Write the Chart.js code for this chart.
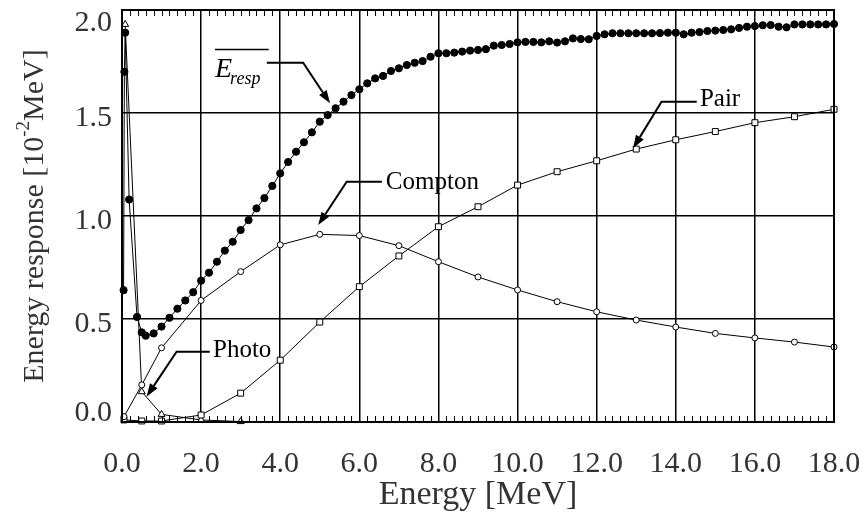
<!DOCTYPE html>
<html>
<head>
<meta charset="utf-8">
<script src="https://cdn.jsdelivr.net/npm/chart.js@4.4.1/dist/chart.umd.min.js"></script>
<style>
  html, body { margin: 0; padding: 0; background: #fff; }
  #wrap { width: 865px; height: 516px; }
</style>
</head>
<body>
<div id="wrap"><canvas id="c" width="865" height="516"></canvas></div>
<script>
// Mean energy response (filled circles)
const respEnergy = [0.04, 0.06, 0.08, 0.18, 0.38, 0.5, 0.6, 0.8,
  1.0, 1.2, 1.4, 1.6, 1.8, 2.0, 2.2, 2.4, 2.6, 2.8, 3.0, 3.2, 3.4, 3.6, 3.8,
  4.0, 4.2, 4.4, 4.6, 4.8, 5.0, 5.2, 5.4, 5.6, 5.8, 6.0, 6.2, 6.4, 6.6, 6.8,
  7.0, 7.2, 7.4, 7.6, 7.8, 8.0, 8.2, 8.4, 8.6, 8.8, 9.0, 9.2, 9.4, 9.6, 9.8,
  10.0, 10.2, 10.4, 10.6, 10.8, 11.0, 11.2, 11.4, 11.6, 11.8, 12.0, 12.2, 12.4, 12.6, 12.8,
  13.0, 13.2, 13.4, 13.6, 13.8, 14.0, 14.2, 14.4, 14.6, 14.8, 15.0, 15.2, 15.4, 15.6, 15.8,
  16.0, 16.2, 16.4, 16.6, 16.8, 17.0, 17.2, 17.4, 17.6, 17.8, 18.0];
const respValue = [0.64, 1.70, 1.89, 1.08, 0.51, 0.435, 0.419, 0.43,
  0.463, 0.506, 0.55, 0.59, 0.63, 0.686, 0.725, 0.778, 0.832, 0.875, 0.932, 0.98, 1.037, 1.087, 1.146,
  1.207, 1.262, 1.312, 1.358, 1.406, 1.458, 1.49, 1.523, 1.555, 1.587, 1.615, 1.644, 1.668, 1.68, 1.704,
  1.717, 1.733, 1.744, 1.752, 1.773, 1.79, 1.79, 1.793, 1.798, 1.803, 1.806, 1.81, 1.827, 1.83, 1.835,
  1.843, 1.845, 1.845, 1.843, 1.848, 1.842, 1.848, 1.862, 1.859, 1.858, 1.874, 1.882, 1.887, 1.887, 1.887,
  1.887, 1.887, 1.887, 1.888, 1.89, 1.89, 1.882, 1.89, 1.893, 1.898, 1.90, 1.903, 1.906, 1.913, 1.919,
  1.922, 1.926, 1.927, 1.919, 1.916, 1.93, 1.93, 1.93, 1.93, 1.93, 1.932];

// Compton (open circles) and pair (open squares)
const partEnergy = [0.05, 0.5, 1, 2, 3, 4, 5, 6, 7, 8, 9, 10, 11, 12, 13, 14, 15, 16, 17, 18];
const comptonValue = [0.026, 0.18, 0.36, 0.59, 0.73, 0.86, 0.911, 0.905, 0.856, 0.778,
  0.704, 0.641, 0.584, 0.535, 0.495, 0.461, 0.43, 0.408, 0.388, 0.364];
const pairValue = [0.01, 0.005, 0.005, 0.034, 0.14, 0.30, 0.485, 0.657, 0.806, 0.948,
  1.045, 1.15, 1.215, 1.268, 1.325, 1.37, 1.41, 1.453, 1.482, 1.518];

// Photoelectric (open triangles)
const photoEnergy = [0.08, 0.5, 1, 2, 3];
const photoValue = [1.93, 0.147, 0.037, 0.01, 0.002];

// Axis ticks
const xTicks = [0, 2, 4, 6, 8, 10, 12, 14, 16, 18];
const yTicks = [0, 0.5, 1.0, 1.5, 2.0];

const pts = (xs, ys) => xs.map((x, i) => ({ x: x, y: ys[i] }));

// Callout labels with arrows, anchored in data units
const callouts = [
  { text: 'Compton', tip: [4.96, 0.956], elbow: [5.68, 1.166], end: [6.57, 1.166], label: [6.67, 1.165] },
  { text: 'Pair',    tip: [12.92, 1.329], elbow: [13.64, 1.555], end: [14.53, 1.555], label: [14.61, 1.565] },
  { text: 'Photo',   tip: [0.62, 0.123], elbow: [1.38, 0.341], end: [2.22, 0.341], label: [2.30, 0.345] },
  { text: null,      tip: [5.26, 1.547], elbow: [4.58, 1.744], end: [3.66, 1.744] }
];
const respLabel = { at: [2.35, 1.675], barFrom: 2.35, barTo: 3.71, barY: 1.809 };

const SERIF = '"Liberation Serif", "Times New Roman", serif';

const framePlugin = {
  id: 'frame',
  afterDraw(chart) {
    const { ctx, chartArea: a, scales } = chart;
    const xs = scales.x, ys = scales.y;
    ctx.save();
    // minor ticks along top and bottom, pointing inward
    ctx.strokeStyle = '#000';
    ctx.lineWidth = 1;
    for (let i = 1; i < 90; i++) {
      if (i % 10 === 0) continue;
      const px = Math.round(xs.getPixelForValue(i * 0.2)) + 0.5;
      ctx.beginPath();
      ctx.moveTo(px, a.top); ctx.lineTo(px, a.top + 6);
      ctx.moveTo(px, a.bottom); ctx.lineTo(px, a.bottom - 6);
      ctx.stroke();
    }
    // plot frame
    ctx.lineWidth = 2;
    ctx.strokeRect(a.left, a.top, a.right - a.left, a.bottom - a.top);

    // y tick labels, end labels held inside the frame height
    ctx.fillStyle = '#333';
    ctx.font = '30px ' + SERIF;
    ctx.textAlign = 'right';
    ctx.textBaseline = 'middle';
    ys.ticks.forEach(t => {
      const py = ys.getPixelForValue(t.value) + 5;
      const cy = Math.min(a.bottom - 9, Math.max(a.top + 13, py));
      ctx.fillText(Number(t.value).toFixed(1), a.left - 10, cy);
    });

    // callouts
    ctx.lineWidth = 2;
    ctx.fillStyle = '#000';
    const P = (p) => [xs.getPixelForValue(p[0]), ys.getPixelForValue(p[1])];
    callouts.forEach(c => {
      const t = P(c.tip), e = P(c.elbow), n = P(c.end);
      const ang = Math.atan2(t[1] - e[1], t[0] - e[0]);
      const hl = 13, hw = 4.5;
      const bx = t[0] - hl * Math.cos(ang), by = t[1] - hl * Math.sin(ang);
      ctx.beginPath();
      ctx.moveTo(n[0], n[1]); ctx.lineTo(e[0], e[1]); ctx.lineTo(bx, by);
      ctx.stroke();
      ctx.beginPath();
      ctx.moveTo(t[0], t[1]);
      ctx.lineTo(bx + hw * Math.sin(ang), by - hw * Math.cos(ang));
      ctx.lineTo(bx - hw * Math.sin(ang), by + hw * Math.cos(ang));
      ctx.closePath();
      ctx.fill();
      if (c.text) {
        const l = P(c.label);
        ctx.font = '25px ' + SERIF;
        ctx.textAlign = 'left';
        ctx.textBaseline = 'middle';
        ctx.fillText(c.text, l[0], l[1]);
      }
    });

    // mean response label with overbar
    const r = P(respLabel.at);
    ctx.textAlign = 'left';
    ctx.textBaseline = 'alphabetic';
    ctx.font = 'italic 28px ' + SERIF;
    ctx.fillText('E', r[0], r[1]);
    const ew = ctx.measureText('E').width;
    ctx.font = 'italic 18px ' + SERIF;
    ctx.fillText('resp', r[0] + ew - 2, r[1] + 7);
    const by = Math.round(ys.getPixelForValue(respLabel.barY)) + 0.5;
    ctx.lineWidth = 1.5;
    ctx.beginPath();
    ctx.moveTo(xs.getPixelForValue(respLabel.barFrom), by);
    ctx.lineTo(xs.getPixelForValue(respLabel.barTo), by);
    ctx.stroke();

    // y-axis title with superscript
    ctx.fillStyle = '#333';
    const cy = (a.top + a.bottom) / 2;
    ctx.translate(35, cy);
    ctx.rotate(-Math.PI / 2);
    const big = '30px ' + SERIF, small = '19px ' + SERIF;
    const parts = [['Energy response [10', big, 0], ['-2', small, -11], ['MeV]', big, 0]];
    let total = 0;
    parts.forEach(p => { ctx.font = p[1]; total += ctx.measureText(p[0]).width; });
    let x0 = -total / 2;
    ctx.textBaseline = 'middle';
    parts.forEach(p => {
      ctx.font = p[1];
      ctx.fillText(p[0], x0, p[2]);
      x0 += ctx.measureText(p[0]).width;
    });
    ctx.restore();
  }
};

// keep the plot area fixed: no extra room reserved for overhanging end labels
const noPad = (s) => { s.paddingTop = 0; s.paddingBottom = 0; s.paddingLeft = 0; s.paddingRight = 0; };

new Chart(document.getElementById('c'), {
  type: 'line',
  data: {
    datasets: [
      { label: 'E_resp', data: pts(respEnergy, respValue), borderColor: '#000', borderWidth: 1,
        pointStyle: 'circle', pointRadius: 3.6, pointBackgroundColor: '#000', pointBorderColor: '#000', pointBorderWidth: 1, order: 0 },
      { label: 'Compton', data: pts(partEnergy, comptonValue), borderColor: '#000', borderWidth: 1,
        pointStyle: 'circle', pointRadius: 3, pointBackgroundColor: '#fff', pointBorderColor: '#000', pointBorderWidth: 1, order: 1 },
      { label: 'Pair', data: pts(partEnergy, pairValue), borderColor: '#000', borderWidth: 1,
        pointStyle: 'rect', pointRadius: 4.2, pointBackgroundColor: '#fff', pointBorderColor: '#000', pointBorderWidth: 1, order: 2 },
      { label: 'Photo', data: pts(photoEnergy, photoValue), borderColor: '#000', borderWidth: 1,
        pointStyle: 'triangle', pointRadius: 4, pointBackgroundColor: '#fff', pointBorderColor: '#000', pointBorderWidth: 1, order: 3 }
    ]
  },
  options: {
    responsive: false,
    animation: false,
    devicePixelRatio: 1,
    layout: { padding: { top: 10, right: 31, left: 0, bottom: 0 } },
    datasets: { line: { clip: false, tension: 0 } },
    plugins: { legend: { display: false }, tooltip: { enabled: false } },
    scales: {
      x: {
        type: 'linear', min: 0, max: 18,
        afterBuildTicks: (s) => { s.ticks = xTicks.map(v => ({ value: v })); },
        afterFit: (s) => { s.height = 94; noPad(s); },
        ticks: { callback: (v) => Number(v).toFixed(1), color: '#333', padding: 24,
                 font: { family: SERIF, size: 30 }, maxRotation: 0, autoSkip: false },
        grid: { color: '#000', lineWidth: 1.5, drawTicks: false },
        border: { display: false },
        title: { display: true, text: 'Energy [MeV]', color: '#333', font: { family: SERIF, size: 34 }, padding: { top: 0, bottom: 1 } }
      },
      y: {
        type: 'linear', min: 0, max: 2,
        afterBuildTicks: (s) => { s.ticks = yTicks.map(v => ({ value: v })); },
        afterFit: (s) => { s.width = 122; noPad(s); },
        ticks: { display: false },
        grid: { color: '#000', lineWidth: 1.5, drawTicks: false },
        border: { display: false }
      }
    }
  },
  plugins: [framePlugin]
});
</script>
</body>
</html>
